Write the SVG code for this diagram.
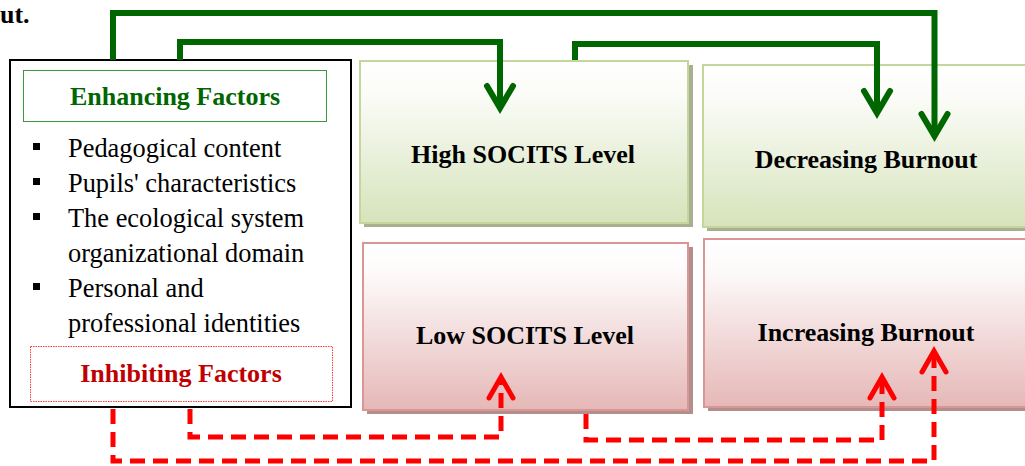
<svg xmlns="http://www.w3.org/2000/svg" width="1025" height="466" viewBox="0 0 1025 466">
  <style>
    .serif { font-family: "Liberation Serif", "Times New Roman", serif; }
    .title { font-family: "Liberation Serif", "Times New Roman", serif; font-size: 26px; font-weight: bold; text-anchor: middle; fill: #000; }
    .item { font-family: "Liberation Serif", "Times New Roman", serif; font-size: 26.4px; fill: #000; }
    .green-box { fill: url(#gGreen); stroke: #c3d69b; stroke-width: 2; }
    .red-box { fill: url(#gRed); stroke: #d99694; stroke-width: 2; }
    .green-shadow { fill: #a8b08f; }
    .red-shadow { fill: #b38e8d; }
    .enh { fill: none; stroke: #006600; stroke-width: 6; stroke-linejoin: miter; }
    .inh { fill: none; stroke: #ff0000; stroke-width: 5; stroke-dasharray: 15 8; }
  </style>
  <defs>
    <linearGradient id="gGreen" x1="0" y1="0" x2="0" y2="1">
      <stop offset="0" stop-color="#ffffff"/>
      <stop offset="0.2" stop-color="#fbfcf8"/>
      <stop offset="1" stop-color="#d6e3bb"/>
    </linearGradient>
    <linearGradient id="gRed" x1="0" y1="0" x2="0" y2="1">
      <stop offset="0" stop-color="#ffffff"/>
      <stop offset="0.2" stop-color="#fdf9f9"/>
      <stop offset="1" stop-color="#e5b8b7"/>
    </linearGradient>
    <marker id="arrG" markerUnits="userSpaceOnUse" markerWidth="40" markerHeight="40" viewBox="-30 -20 40 40" refX="0" refY="0" orient="auto">
      <path d="M-22,-13 L0,0 L-22,13" fill="none" stroke="#006600" stroke-width="6" stroke-linecap="round" stroke-linejoin="miter"/>
    </marker>
    <marker id="arrR" markerUnits="userSpaceOnUse" markerWidth="40" markerHeight="40" viewBox="-30 -20 40 40" refX="0" refY="0" orient="auto">
      <path d="M-21,-12 L0,0 L-21,12" fill="none" stroke="#ff0000" stroke-width="5" stroke-linecap="round" stroke-linejoin="miter" stroke-dasharray="none"/>
    </marker>
  </defs>

  <rect width="1025" height="466" fill="#ffffff"/>

  <text class="serif" x="0" y="23" font-size="26" font-weight="bold" fill="#000">ut.</text>

  <g id="factors">
    <rect x="10" y="60" width="341" height="347" fill="#ffffff" stroke="#000" stroke-width="2"/>
    <g id="enhancing">
      <rect x="23.5" y="70.5" width="303" height="51" fill="none" stroke="#3c963c" stroke-width="1"/>
      <text x="175" y="105" class="title" style="fill:#006600">Enhancing Factors</text>
    </g>
    <g id="items">
      <rect x="33" y="143" width="7" height="7" fill="#000"/>
      <rect x="33" y="178" width="7" height="7" fill="#000"/>
      <rect x="33" y="213" width="7" height="7" fill="#000"/>
      <rect x="33" y="283" width="7" height="7" fill="#000"/>
      <text class="item" x="68" y="157">Pedagogical content</text>
      <text class="item" x="68" y="192">Pupils' characteristics</text>
      <text class="item" x="68" y="227">The ecological system</text>
      <text class="item" x="68" y="262">organizational domain</text>
      <text class="item" x="68" y="297">Personal and</text>
      <text class="item" x="68" y="332">professional identities</text>
    </g>
    <g id="inhibiting">
      <rect x="30.5" y="346.5" width="302" height="55" fill="none" stroke="#ff3b3b" stroke-width="1" stroke-dasharray="1.5 1"/>
      <text x="181" y="382" class="title" style="fill:#c00000">Inhibiting Factors</text>
    </g>
  </g>

  <g id="high-socits">
    <rect class="green-shadow" x="364" y="65" width="329" height="162"/>
    <rect class="green-box" x="360" y="61" width="328" height="162"/>
    <text class="title" x="523" y="163">High SOCITS Level</text>
  </g>

  <g id="decreasing-burnout">
    <rect class="green-shadow" x="707" y="69" width="340" height="162"/>
    <rect class="green-box" x="703" y="65" width="340" height="162"/>
    <text class="title" x="866" y="168">Decreasing Burnout</text>
  </g>

  <g id="low-socits">
    <rect class="red-shadow" x="367" y="247" width="326" height="167"/>
    <rect class="red-box" x="363" y="243" width="325" height="167"/>
    <text class="title" x="525" y="344">Low SOCITS Level</text>
  </g>

  <g id="increasing-burnout">
    <rect class="red-shadow" x="708" y="243" width="340" height="168"/>
    <rect class="red-box" x="704" y="239" width="340" height="168"/>
    <text class="title" x="866" y="341">Increasing Burnout</text>
  </g>

  <g id="connectors">
    <path class="enh" d="M113,60 V13 H934.5 V136" marker-end="url(#arrG)"/>
    <path class="enh" d="M180,60 V42 H500 V108" marker-end="url(#arrG)"/>
    <path class="enh" d="M575,60 V44 H877 V113" marker-end="url(#arrG)"/>
    <path class="inh" d="M113,409 V461 H934 V351" marker-end="url(#arrR)"/>
    <path class="inh" d="M190,409 V437 H501 V377" marker-end="url(#arrR)"/>
    <path class="inh" d="M586,414 V440 H882 V377" marker-end="url(#arrR)"/>
  </g>
</svg>
